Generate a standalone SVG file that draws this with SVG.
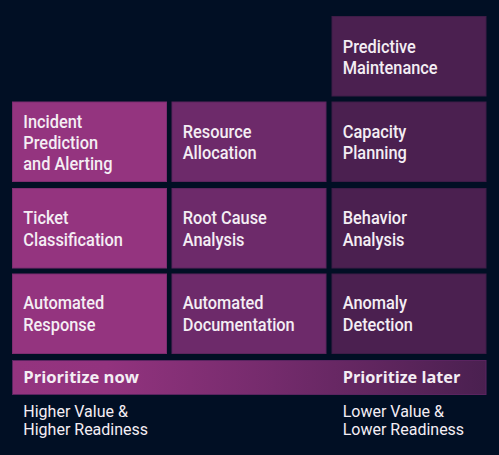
<svg xmlns="http://www.w3.org/2000/svg" width="499" height="455" viewBox="0 0 499 455">
<defs>
<linearGradient id="barGrad" x1="0" y1="0" x2="1" y2="0">
<stop offset="0" stop-color="#94347f"/>
<stop offset="0.2" stop-color="#92337e"/>
<stop offset="0.55" stop-color="#742b6c"/>
<stop offset="1" stop-color="#4a2050"/>
</linearGradient>
<style>
.c1{fill:#94347f;stroke:#7d2d70;stroke-width:1}
.c2{fill:#6d2a6a;stroke:#5c255d;stroke-width:1}
.c3{fill:#4b2050;stroke:#3e1c47;stroke-width:1}
.t{font-family:Roboto,"Liberation Sans",sans-serif;font-weight:500;font-size:18.5px;fill:#f4eef4}
.h{font-family:"Open Sans","DejaVu Sans",sans-serif;font-weight:700;font-size:15.5px;fill:#f4eef4}
.s{font-family:Roboto,"Liberation Sans",sans-serif;font-weight:400;font-size:16px;fill:#f4eef4}
</style>
</defs>
<rect x="0" y="0" width="499" height="455" fill="#010f24"/>
<g id="connectors"></g>
<g id="predictive-maintenance"><rect class="c3" x="332" y="16.5" width="154" height="79.5"/><text class="t" transform="translate(342.7,52.7) scale(0.885,1)">Predictive</text><text class="t" transform="translate(342.7,74) scale(0.885,1)">Maintenance</text></g>
<g id="incident-prediction"><rect class="c1" x="12.5" y="102" width="154" height="79.5"/><text class="t" transform="translate(23.3,127.7) scale(0.885,1)">Incident</text><text class="t" transform="translate(23.3,149) scale(0.885,1)">Prediction</text><text class="t" transform="translate(23.3,170.3) scale(0.885,1)">and Alerting</text></g>
<g id="resource-allocation"><rect class="c2" x="172" y="102" width="154" height="79.5"/><text class="t" transform="translate(182.7,137.7) scale(0.885,1)">Resource</text><text class="t" transform="translate(182.7,159.3) scale(0.885,1)">Allocation</text></g>
<g id="capacity-planning"><rect class="c3" x="332" y="102" width="154" height="79.5"/><text class="t" transform="translate(342.7,137.7) scale(0.885,1)">Capacity</text><text class="t" transform="translate(342.7,159.3) scale(0.885,1)">Planning</text></g>
<g id="ticket-classification"><rect class="c1" x="12.5" y="188.5" width="154" height="79.5"/><text class="t" transform="translate(23.3,224.3) scale(0.885,1)">Ticket</text><text class="t" transform="translate(23.3,245.7) scale(0.885,1)">Classification</text></g>
<g id="root-cause-analysis"><rect class="c2" x="172" y="188.5" width="154" height="79.5"/><text class="t" transform="translate(182.7,224.3) scale(0.885,1)">Root Cause</text><text class="t" transform="translate(182.7,245.7) scale(0.885,1)">Analysis</text></g>
<g id="behavior-analysis"><rect class="c3" x="332" y="188.5" width="154" height="79.5"/><text class="t" transform="translate(342.7,224.3) scale(0.885,1)">Behavior</text><text class="t" transform="translate(342.7,245.7) scale(0.885,1)">Analysis</text></g>
<g id="automated-response"><rect class="c1" x="12.5" y="274" width="154" height="79.5"/><text class="t" transform="translate(23.3,309.3) scale(0.885,1)">Automated</text><text class="t" transform="translate(23.3,330.7) scale(0.885,1)">Response</text></g>
<g id="automated-documentation"><rect class="c2" x="172" y="274" width="154" height="79.5"/><text class="t" transform="translate(182.7,309.3) scale(0.885,1)">Automated</text><text class="t" transform="translate(182.7,330.7) scale(0.885,1)">Documentation</text></g>
<g id="anomaly-detection"><rect class="c3" x="332" y="274" width="154" height="79.5"/><text class="t" transform="translate(342.7,309.3) scale(0.885,1)">Anomaly</text><text class="t" transform="translate(342.7,330.7) scale(0.885,1)">Detection</text></g>
<g id="priority-bar"><rect x="12.5" y="360.5" width="473.5" height="34" fill="url(#barGrad)" stroke="#5a2460" stroke-width="1"/><text class="h" transform="translate(23.3,383.3) scale(1.07,1)">Prioritize now</text><text class="h" transform="translate(342.7,383.3) scale(1.05,1)">Prioritize later</text></g>
<g id="labels"><text class="s" x="23.3" y="416.7">Higher Value &amp;</text><text class="s" x="23.3" y="435">Higher Readiness</text><text class="s" x="342.7" y="416.7">Lower Value &amp;</text><text class="s" x="342.7" y="435">Lower Readiness</text></g>
</svg>
